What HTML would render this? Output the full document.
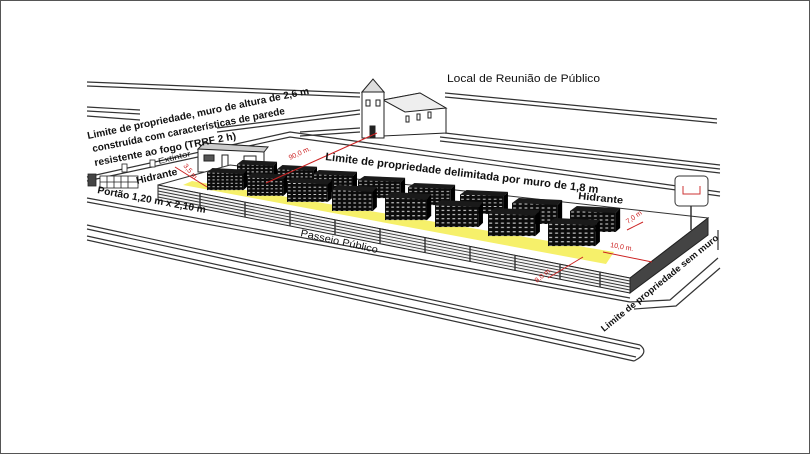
<!DOCTYPE html>
<html><head><meta charset="utf-8"><style>
html,body{margin:0;padding:0;background:#fff}
svg{display:block}
text{font-family:"Liberation Sans",sans-serif}
</style></head><body>
<svg width="810" height="454" viewBox="0 0 810 454" xmlns="http://www.w3.org/2000/svg">
<defs>
<pattern id="pat" width="5" height="4" patternUnits="userSpaceOnUse">
<rect width="5" height="4" fill="#0c0c0c"/><rect x="1" y="1.5" width="2.5" height="1" fill="#ddd"/>
</pattern>
<g id="stk">
<rect x="0" y="5" width="40" height="21" fill="url(#pat)"/>
<polygon points="0,5 6,0 44,2 40,7" fill="#1a1a1a"/>
<polygon points="40,7 44,2 44,22 40,26" fill="#000"/>
</g>
</defs>
<rect x="0.5" y="0.5" width="809" height="453" fill="#fff" stroke="#555"/>
<g fill="none" stroke="#333" stroke-width="1.2">
<path d="M87 82 L360 93 M87 86 L360 97"/>
<path d="M445 93 L717 119 M445 97 L717 123"/>
<path d="M87 107 L140 110 M87 111 L140 114 M87 116 L140 120"/>
<path d="M217 128 L360 110 M217 132 L360 114"/>
<path d="M300 132 L360 128 M300 136 L360 132"/>
<path d="M445 133 L720 165 M440 137 L720 169 M440 141 L720 173"/>
<path d="M87 177 L290 132 L720 192 M87 181 L290 137 L720 196"/>
<path d="M87 198 L630 298 M87 202 L630 302"/>
<path d="M87 225 L640 345 M87 229 L640 349 M87 236 L636 357 M87 240 L634 361"/>
<path d="M640 345 Q650 353 634 361"/>
<path d="M630 302 L670 300 L718 258 M634 309 L676 306 L720 268 M718 250 L718 230"/>
</g>
<g stroke="#222" stroke-width="1" fill="#fff">
<polygon points="383,100 420,93 446,108 446,133 383,136"/>
<polygon points="383,100 420,93 446,108 405,112" fill="#eee"/>
<rect x="362" y="92" width="22" height="46"/>
<polygon points="362,92 373,79 384,92" fill="#ddd"/>
<rect x="366" y="100" width="4" height="6"/><rect x="376" y="100" width="4" height="6"/>
<rect x="370" y="126" width="5" height="12" fill="#222"/>
<rect x="406" y="116" width="3" height="6"/><rect x="417" y="114" width="3" height="6"/><rect x="428" y="112" width="3" height="6"/>
</g>
<g stroke="#222" stroke-width="1" fill="#fff">
<rect x="198" y="149" width="66" height="23"/>
<polygon points="198,149 204,143 268,147 264,152" fill="#ccc"/>
<rect x="204" y="155" width="10" height="6" fill="#555"/>
<rect x="222" y="155" width="6" height="17"/>
<rect x="244" y="156" width="12" height="16"/>
</g>
<g stroke="#222" fill="#fff" stroke-width="0.8">
<rect x="88" y="174" width="8" height="12" fill="#444"/>
<rect x="100" y="176" width="38" height="12"/>
<path d="M107 176v12M114 176v12M121 176v12M128 176v12M100 182h38"/>
<rect x="122" y="164" width="5" height="8"/><rect x="150" y="160" width="5" height="7"/>
</g>
<polygon points="158,185 230,165 708,218 630,278" fill="#fff" stroke="#333"/>
<polygon points="630,278 708,218 708,235 630,293" fill="#444" stroke="#222"/>
<polygon points="183,185 192,181 614,252 606,264" fill="#f6f06a"/>
<use href="#stk" transform="translate(237,160) scale(0.91,0.85)"/>
<use href="#stk" transform="translate(277,165) scale(0.91,0.85)"/>
<use href="#stk" transform="translate(313,170) scale(1,0.85)"/>
<use href="#stk" transform="translate(358,176) scale(1.07,0.85)"/>
<use href="#stk" transform="translate(408,183) scale(1.07,0.85)"/>
<use href="#stk" transform="translate(460,190) scale(1.09,0.92)"/>
<use href="#stk" transform="translate(512,198) scale(1.14,1)"/>
<use href="#stk" transform="translate(570,206) scale(1.14,1)"/>
<use href="#stk" transform="translate(207,168) scale(0.91,0.85)"/>
<use href="#stk" transform="translate(247,173) scale(0.91,0.88)"/>
<use href="#stk" transform="translate(287,178) scale(1.02,0.92)"/>
<use href="#stk" transform="translate(332,185) scale(1.02,1)"/>
<use href="#stk" transform="translate(385,192) scale(1.05,1.08)"/>
<use href="#stk" transform="translate(435,200) scale(1.09,1.04)"/>
<use href="#stk" transform="translate(488,208) scale(1.18,1.08)"/>
<use href="#stk" transform="translate(548,218) scale(1.18,1.08)"/>
<polygon points="158,185 630,278 630,293 158,200" fill="#f4f4f4" stroke="#222"/>
<g stroke="#333" stroke-width="0.9" fill="none">
<path d="M158 188 L630 281 M158 191 L630 284 M158 194 L630 287 M158 197 L630 290"/>
<path d="M200 193v15M245 202v15M290 211v15M335 220v15M380 229v15M425 238v15M470 247v15M515 256v15M560 264v15M600 272v15" stroke-width="1.4"/>
</g>
<rect x="675" y="176" width="33" height="30" rx="4" fill="#fff" stroke="#333"/>
<path d="M683 186v8h17v-8" fill="none" stroke="#c33"/>
<path d="M691 206v24" stroke="#333" stroke-width="1.5"/>
<g stroke="#c22" stroke-width="1" fill="none">
<path d="M266 183 L377 133"/>
<path d="M175 167 L207 187"/>
<path d="M627 230 L643 222"/>
<path d="M603 252 L652 262"/>
<path d="M548 278 L583 257"/>
</g>
<g fill="#c22" font-size="7">
<text transform="translate(290,160) rotate(-25)">90,0 m.</text>
<text transform="translate(183,166) rotate(50)">3,5 m.</text>
<text transform="translate(628,224) rotate(-35)">7,0 m</text>
<text transform="translate(610,247) rotate(10)">10,0 m.</text>
<text transform="translate(537,283) rotate(-40)">8,0 m.</text>
</g>
<g fill="#111">
<text x="447" y="82" font-size="11" textLength="153" lengthAdjust="spacingAndGlyphs">Local de Reunião de Público</text>
<text transform="translate(88,139) rotate(-11.5)" font-size="10" font-weight="bold" textLength="226" lengthAdjust="spacingAndGlyphs">Limite de propriedade, muro de altura de 2,6 m</text>
<text transform="translate(93,152) rotate(-11.2)" font-size="10" font-weight="bold" textLength="196" lengthAdjust="spacingAndGlyphs">construída com características de parede</text>
<text transform="translate(95,166) rotate(-10.8)" font-size="10" font-weight="bold" textLength="144" lengthAdjust="spacingAndGlyphs">resistente  ao fogo (TRRF 2 h)</text>
<text transform="translate(159,164) rotate(-14)" font-size="8" textLength="33" lengthAdjust="spacingAndGlyphs">Extintor</text>
<text transform="translate(137,184) rotate(-13)" font-size="10" font-weight="bold" textLength="42" lengthAdjust="spacingAndGlyphs">Hidrante</text>
<text transform="translate(97,193) rotate(10.5)" font-size="10" font-weight="bold" textLength="110" lengthAdjust="spacingAndGlyphs">Portão 1,20 m x 2,10 m</text>
<text transform="translate(300,236) rotate(12.5)" font-size="10" textLength="79" lengthAdjust="spacingAndGlyphs">Passeio Público</text>
<text transform="translate(325,160) rotate(6.9)" font-size="11" font-weight="bold" textLength="275" lengthAdjust="spacingAndGlyphs">Limite de propriedade delimitada por muro de 1,8 m</text>
<text transform="translate(578,199) rotate(6)" font-size="10" font-weight="bold" textLength="45" lengthAdjust="spacingAndGlyphs">Hidrante</text>
<text transform="translate(604,332) rotate(-39)" font-size="9" font-weight="bold" textLength="148" lengthAdjust="spacingAndGlyphs">Limite de propriedade sem muro</text>
</g>
</svg>
</body></html>
